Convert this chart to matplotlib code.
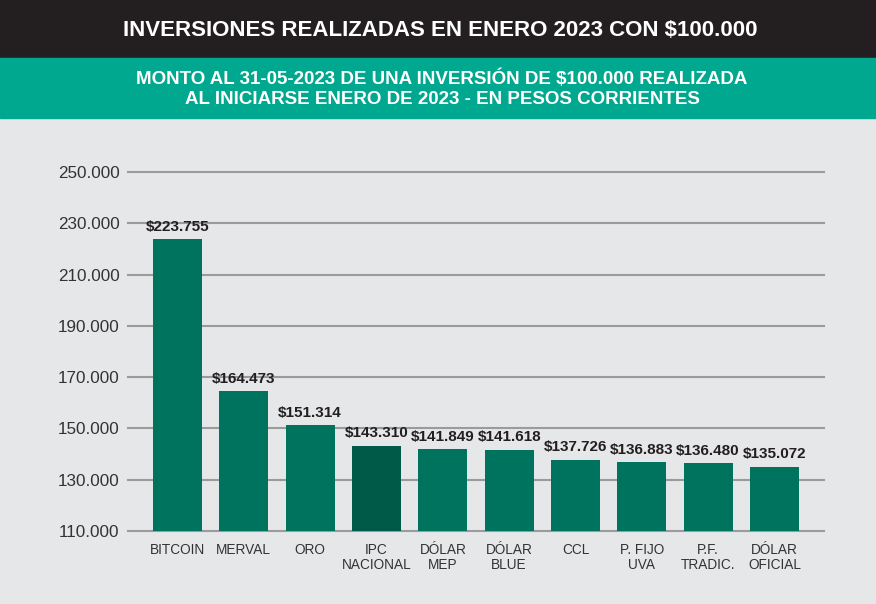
import matplotlib
matplotlib.use("Agg")
import matplotlib.pyplot as plt
from matplotlib.patches import Rectangle
from matplotlib import font_manager as fm

categories = ["BITCOIN", "MERVAL", "ORO", "IPC\nNACIONAL", "DÓLAR\nMEP", "DÓLAR\nBLUE",
              "CCL", "P. FIJO\nUVA", "P.F.\nTRADIC.", "DÓLAR\nOFICIAL"]
values = [223755, 164473, 151314, 143310, 141849, 141618, 137726, 136883, 136480, 135072]
value_labels = ["$223.755", "$164.473", "$151.314", "$143.310", "$141.849", "$141.618",
                "$137.726", "$136.883", "$136.480", "$135.072"]
yticks = [110000, 130000, 150000, 170000, 190000, 210000, 230000, 250000]
ytick_labels = ["110.000", "130.000", "150.000", "170.000", "190.000", "210.000", "230.000", "250.000"]
title = "INVERSIONES REALIZADAS EN ENERO 2023 CON $100.000"
subtitle = "MONTO AL 31-05-2023 DE UNA INVERSIÓN DE $100.000 REALIZADA\nAL INICIARSE ENERO DE 2023 - EN PESOS CORRIENTES"

FONT = ["Liberation Sans", "DejaVu Sans"]

BG = "#E6E7E8"
W, H = 876, 604
fig = plt.figure(figsize=(W/100, H/100), dpi=100, facecolor=BG)

# header bands
fig.patches.append(Rectangle((0, 1-58/H), 1, 58/H, transform=fig.transFigure, color="#231F20", zorder=0))
fig.patches.append(Rectangle((0, 1-118/H), 1, 60/H, transform=fig.transFigure, color="#00A88F", zorder=0))
fig.text(440/W, 1-30/H, title, color="white", ha="center", va="center",
         fontsize=16, fontweight="bold", family=FONT)
fig.text(442/W, 1-89/H, subtitle, color="white", ha="center", va="center",
         fontsize=13.5, fontweight="bold", family=FONT, linespacing=1.2)

ax = fig.add_axes([128/W, 1-531/H, (824-128)/W, (531-172)/H])
ax.set_facecolor(BG)
x = list(range(len(categories)))
colors = ["#00735E"] * len(categories)
colors[3] = "#005A48"
ax.bar(x, values, width=0.74, color=colors, zorder=3)
ax.set_ylim(110000, 250000)
ax.set_xlim(-0.747, len(categories) - 1 + 0.747)
ax.set_yticks(yticks)
ax.set_yticklabels(ytick_labels, fontsize=12.3, color="#333333", family=FONT)
ax.set_xticks(x)
ax.set_xticklabels(categories, fontsize=9.8, color="#333333", family=FONT, linespacing=1.05)
ax.tick_params(axis="y", length=0, pad=6)
ax.tick_params(axis="x", length=0, pad=9)
for s in ax.spines.values():
    s.set_visible(False)
for yt in yticks:
    ax.axhline(yt, color="#9B9B9B", linewidth=1.5, zorder=1, clip_on=False)
for xi, v, lab in zip(x, values, value_labels):
    ax.annotate(lab, (xi, v), xytext=(0, 4), textcoords="offset points", ha="center", va="bottom",
                fontsize=11, fontweight="bold", color="#231F20", family=FONT, zorder=4)

fig.savefig("out.png", dpi=100, facecolor=BG)
